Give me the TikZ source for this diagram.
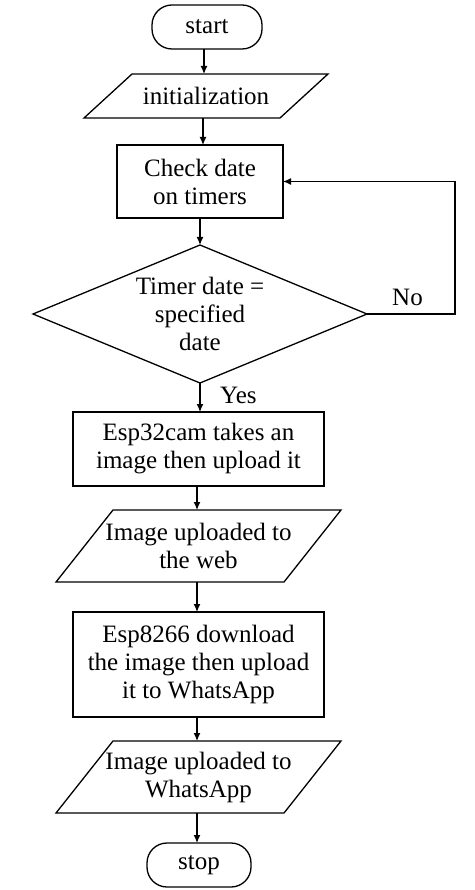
\documentclass[tikz,border=0pt]{standalone}
\usepackage{fontspec}
\setmainfont{Liberation Serif}
\usetikzlibrary{shapes.geometric,arrows.meta}
\tikzset{
  base/.style={font=\fontsize{25pt}{28pt}\selectfont, align=center, inner sep=0pt, outer sep=0pt, line width=1.3pt},
  terminal/.style={base, draw, rounded corners=20pt},
  procbox/.style={base, draw, rectangle},
  iobox/.style={base, rectangle},
  decision/.style={base, draw, diamond, shape aspect=2.42},
  lbl/.style={font=\fontsize{25pt}{28pt}\selectfont, inner sep=0pt},
  arr/.style={line width=1.3pt, -{Latex[length=8pt,width=7pt]}},
  shapeline/.style={line width=1.3pt}
}
\newcommand\paradraw[2]{\draw[shapeline] ([xshift=#2]#1.north west) -- ([xshift=#2]#1.north east) -- ([xshift=-#2]#1.south east) -- ([xshift=-#2]#1.south west) -- cycle;}
\begin{document}
\begin{tikzpicture}[x=1pt,y=1pt]
\useasboundingbox (0,0) rectangle (474,-890);
\node[terminal, minimum width=110pt, minimum height=44pt] (start) at (207,-27) {start};
\node[iobox, minimum width=196pt, minimum height=44pt] (init) at (206,-96) {initialization};
\paradraw{init}{24pt}
\node[procbox, minimum width=166pt, minimum height=73pt] (check) at (200,-181.5) {Check date\\on timers};
\node[decision, minimum width=334pt, minimum height=138pt] (d) at (200,-314) {Timer date =\\specified\\date};
\node[procbox, minimum width=251pt, minimum height=74pt] (cam) at (198.5,-449) {Esp32cam takes an\\image then upload it};
\node[iobox, minimum width=228pt, minimum height=72pt] (web) at (198.5,-546) {Image uploaded to\\the web};
\paradraw{web}{28.5pt}
\node[procbox, minimum width=251pt, minimum height=105pt] (esp) at (198.5,-664.5) {Esp8266 download\\the image then upload\\it to WhatsApp};
\node[iobox, minimum width=228pt, minimum height=72pt] (wa) at (198.5,-777) {Image uploaded to\\WhatsApp};
\paradraw{wa}{28.5pt}
\node[terminal, minimum width=104pt, minimum height=44pt] (stop) at (199,-865) {stop};
\node[lbl, anchor=base west] (yes) at (220,-403) {Yes};
\node[lbl, anchor=base west] (no) at (392,-305) {No};
% connectors
\draw[arr] ([xshift=-3pt]start.south) -- ([xshift=-3pt]start.south |- init.north);
\draw[arr] ([xshift=-3pt]init.south) -- ([xshift=-3pt]init.south |- check.north);
\draw[arr] (check.south) -- (check.south |- d.north);
\draw[arr] (d.south) -- (d.south |- cam.north);
\draw[arr] ([xshift=-1.5pt]cam.south) -- ([xshift=-1.5pt]cam.south |- web.north);
\draw[arr] ([xshift=-1.5pt]web.south) -- ([xshift=-1.5pt]web.south |- esp.north);
\draw[arr] ([xshift=-1.5pt]esp.south) -- ([xshift=-1.5pt]esp.south |- wa.north);
\draw[arr] ([xshift=-1.5pt]wa.south) -- ([xshift=-1.5pt]wa.south |- stop.north);
\draw[arr] (d.east) -- ++(88,0) |- (check.east);
\end{tikzpicture}
\end{document}
